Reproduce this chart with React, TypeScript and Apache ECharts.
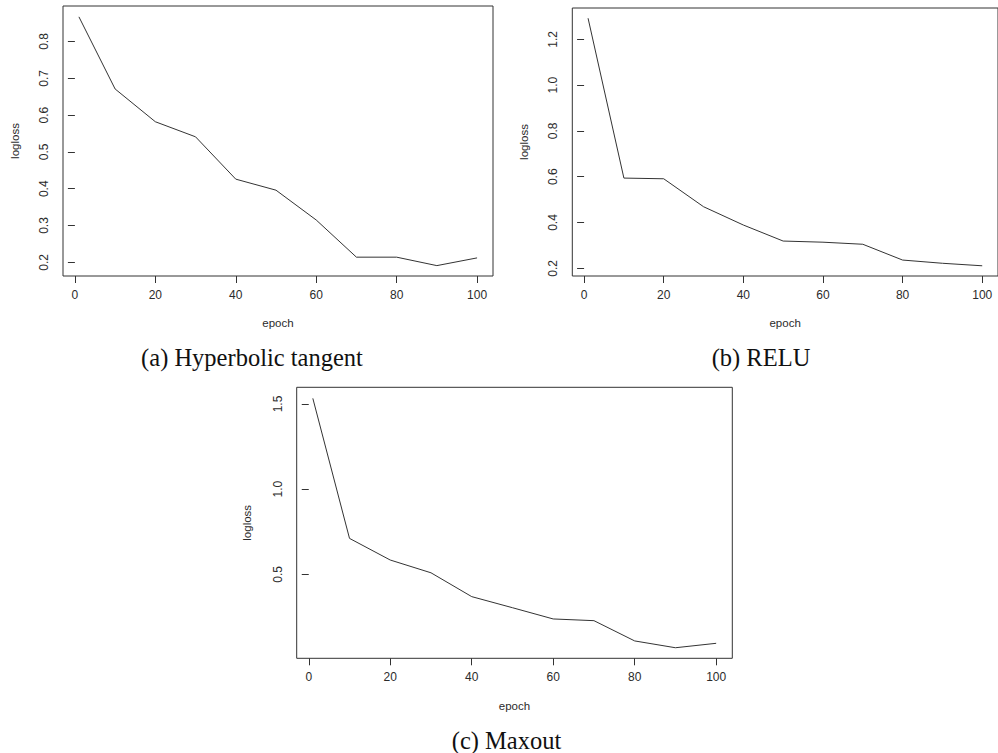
import React, { useEffect, useRef } from "react";
import * as echarts from "echarts";

const epochs = [1, 10, 20, 30, 40, 50, 60, 70, 80, 90, 100];
const tanhLoss = [0.867, 0.671, 0.582, 0.541, 0.426, 0.396, 0.315, 0.214, 0.214, 0.191, 0.212];
const reluLoss = [1.292, 0.594, 0.591, 0.469, 0.389, 0.319, 0.314, 0.305, 0.236, 0.222, 0.211];
const maxoutLoss = [1.533, 0.711, 0.584, 0.509, 0.369, 0.304, 0.238, 0.228, 0.109, 0.069, 0.095];

const xTicks = [0, 20, 40, 60, 80, 100];
const tanhTicks = [0.2, 0.3, 0.4, 0.5, 0.6, 0.7, 0.8];
const reluTicks = [0.2, 0.4, 0.6, 0.8, 1.0, 1.2];
const maxoutTicks = [0.5, 1.0, 1.5];

const captions = ["(a) Hyperbolic tangent", "(b) RELU", "(c) Maxout"];
const xName = "epoch";
const yName = "logloss";

const SANS = "'Liberation Sans', Arial, sans-serif";
const SERIF = "'Liberation Serif', 'DejaVu Serif', serif";
const INK = "#2b2b2b";

export default function App() {
  const ref = useRef<HTMLDivElement>(null);

  useEffect(() => {
    if (!ref.current) return;
    const chart = echarts.init(ref.current, undefined, { renderer: "svg" });

    const grids = [
      { left: 63, top: 6, width: 430, height: 270 },
      { left: 572.3, top: 8, right: -2.7, height: 268 },
      { left: 296.7, top: 387.3, width: 435.6, height: 271 },
    ];
    const yRanges = [
      [0.1628, 0.8965],
      [0.1664, 1.3367],
      [0.007, 1.598],
    ];
    const yTickSets = [tanhTicks, reluTicks, maxoutTicks];
    const seriesData = [tanhLoss, reluLoss, maxoutLoss];
    const yNameGaps = [42, 42, 44];
    const xNameGaps = [41, 41, 42];
    const captionPos = [
      [252, 357],
      [761, 357],
      [506.5, 740],
    ];

    const option: any = {
      animation: false,
      backgroundColor: "#ffffff",
      grid: grids.map((g) => ({
        ...g,
        show: true,
        borderColor: "#333",
        borderWidth: 1,
        backgroundColor: "transparent",
        containLabel: false,
      })),
      xAxis: grids.map((_, i) => ({
        type: "value",
        gridIndex: i,
        min: -2.96,
        max: 103.96,
        name: xName,
        nameLocation: "middle",
        nameGap: xNameGaps[i],
        nameTextStyle: { fontFamily: SANS, fontSize: 11.5, color: INK },
        axisLine: { show: false },
        splitLine: { show: false },
        axisTick: {
          show: true,
          inside: false,
          length: 7,
          customValues: xTicks,
          lineStyle: { color: "#333", width: 1 },
        },
        axisLabel: {
          show: true,
          customValues: xTicks,
          margin: 13,
          fontFamily: SANS,
          fontSize: 12,
          color: INK,
          formatter: (v: number) => String(v),
        },
      })),
      yAxis: grids.map((_, i) => ({
        type: "value",
        gridIndex: i,
        min: yRanges[i][0],
        max: yRanges[i][1],
        name: yName,
        nameLocation: "middle",
        nameGap: yNameGaps[i],
        nameRotate: 90,
        nameTextStyle: { fontFamily: SANS, fontSize: 11.5, color: INK },
        axisLine: { show: false },
        splitLine: { show: false },
        axisTick: {
          show: true,
          inside: false,
          length: 7,
          customValues: yTickSets[i],
          lineStyle: { color: "#333", width: 1 },
        },
        axisLabel: {
          show: true,
          customValues: yTickSets[i],
          rotate: 90,
          margin: 13,
          fontFamily: SANS,
          fontSize: 12,
          color: INK,
          formatter: (v: number) => v.toFixed(1),
        },
      })),
      series: seriesData.map((vals, i) => ({
        type: "line",
        xAxisIndex: i,
        yAxisIndex: i,
        data: epochs.map((e, k) => [e, vals[k]]),
        showSymbol: false,
        symbol: "none",
        lineStyle: { color: "#333", width: 1 },
        silent: true,
      })),
      graphic: captions.map((c, i) => ({
        type: "text",
        x: captionPos[i][0],
        y: captionPos[i][1],
        style: {
          text: c,
          font: `24.5px ${SERIF}`,
          fill: "#111",
          textAlign: "center",
          textVerticalAlign: "middle",
        },
      })),
    };

    chart.setOption(option);
    return () => chart.dispose();
  }, []);

  return (
    <div
      ref={ref}
      style={{ position: "absolute", left: 0, top: 0, width: 998, height: 753 }}
    />
  );
}
